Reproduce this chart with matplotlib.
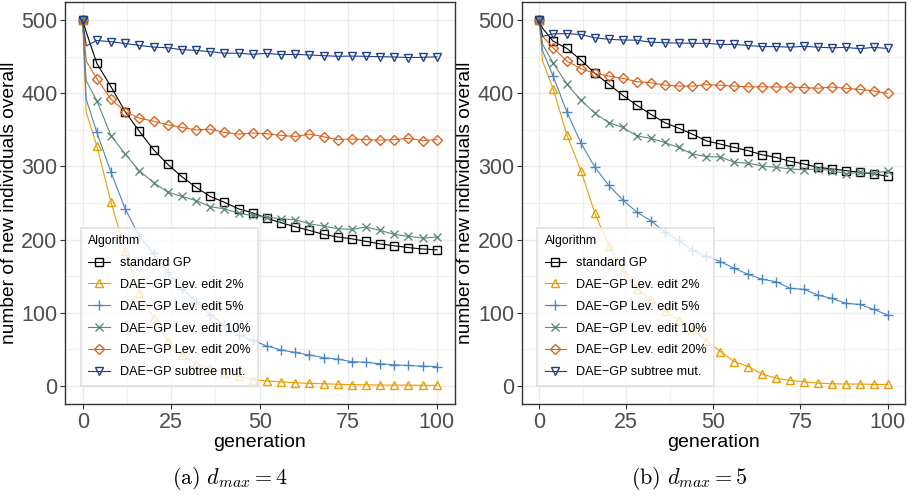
import matplotlib
matplotlib.use('Agg')
import matplotlib.pyplot as plt
from matplotlib.ticker import MultipleLocator

plt.rcParams['font.family'] = ['Liberation Sans', 'DejaVu Sans']
plt.rcParams['mathtext.fontset'] = 'cm'

# generations: 0, 1, then every 4th one (markers skip gen 1)
gens = [0, 1, 4, 8, 12, 16, 20, 24, 28, 32, 36, 40, 44, 48, 52, 56, 60, 64, 68, 72, 76, 80, 84, 88, 92, 96, 100]

labels = ['standard GP', 'DAE\u2212GP Lev. edit 2%', 'DAE\u2212GP Lev. edit 5%',
          'DAE\u2212GP Lev. edit 10%', 'DAE\u2212GP Lev. edit 20%', 'DAE\u2212GP subtree mut.']

# panel (a) d_max = 4
std_a = [500, 484, 441, 409, 375, 348, 323, 303, 286, 271.5, 259, 251, 242, 236.5, 229, 223, 217.5, 212.5,
         207, 203.5, 201, 197.5, 194, 191.5, 189, 187, 186]
lev2_a = [500, 374, 328, 251, 184, 127, 93, 61, 42, 30, 24, 17, 12.7, 8.5, 6.5, 5.2, 4.2, 3.2, 2.7, 2,
          1.5, 1.2, 1, 0.9, 0.8, 0.6, 0.5]
lev5_a = [500, 392, 346.5, 292, 242, 204.5, 181, 156, 133, 115, 97, 83, 69.5, 62, 54.5, 49, 45.5, 42,
          38.5, 36.3, 33, 32, 30, 28.6, 27.7, 26.8, 26.3]
lev10_a = [500, 417, 390, 342, 317, 294, 278, 265, 259, 253.4, 245, 242, 236, 233, 230.7, 228.5, 227,
           221.6, 218.4, 214.8, 214, 217, 212.5, 207, 204.4, 202, 203.5]
lev20_a = [500, 444, 420, 392, 375, 366, 362, 357, 353.4, 350, 351, 346.6, 344.3, 345.7, 344.8, 342.5,
           341, 344.3, 340.7, 336.7, 337.6, 336.7, 336, 336.7, 338.5, 335.3, 336.7]
sub_a = [500, 465, 472.4, 470.6, 468.3, 465.6, 463.3, 462.4, 459.7, 458.8, 457, 455, 455, 453.4, 454.8,
         453, 453.4, 452.5, 451.6, 450.7, 451, 450.7, 450.2, 449.8, 449, 449.3, 450]

# panel (b) d_max = 5
std_b = [500, 489, 471.4, 461.4, 445.5, 427.4, 412.4, 397.4, 383.8, 371.5, 360, 352.4, 344.2, 335, 330.6,
         326, 321.5, 316, 312.4, 307, 303.4, 298.8, 296.6, 294.3, 292, 289.8, 286.6]
lev2_b = [500, 444, 406.5, 342.8, 294, 236, 191, 156.7, 133, 118.5, 102.6, 90, 76.3, 61.8, 46.8, 33.1,
          26.3, 15.9, 10.4, 7.2, 5.4, 3.6, 2.7, 2.3, 2.3, 1.8, 1.8]
lev5_b = [500, 458, 423.7, 374, 332, 299, 274, 254.3, 237.5, 226, 210.3, 199, 185.3, 177, 169.8, 160.7,
          152.4, 145.6, 142.4, 133.3, 131.9, 124, 119.5, 112.7, 111.3, 104.5, 96.7]
lev10_b = [500, 467, 441.9, 412.4, 390.6, 372.8, 360, 353.3, 342, 338.3, 332.8, 326, 317, 313.6, 313,
           305.6, 304.5, 300.5, 298.8, 296.6, 295.5, 296.6, 294.3, 290, 292, 290.7, 294]
lev20_b = [500, 478, 462.3, 444, 433.7, 427.4, 423.7, 420.6, 416, 414.6, 411.4, 410, 410, 412, 411, 410,
           409, 409, 408.7, 408.7, 407.8, 407, 408.7, 407, 405.3, 403.4, 400]
sub_b = [500, 478, 481.4, 481.8, 480.5, 476, 474, 473, 472.8, 470, 469.3, 468.8, 468.5, 468.5, 467, 467,
         465.5, 464, 464, 463.2, 464.4, 463.2, 462.3, 463, 461, 463, 461.4]

colors = ['#000000', '#E69F00', '#4A86C0', '#5E8B74', '#D9661F', '#1F3F85']
markers = ['s', '^', '+', 'x', 'D', 'v']
msizes = [5.2, 6, 7.5, 5.5, 5.3, 6]
mark_idx = [0] + list(range(2, len(gens)))

fig = plt.figure(figsize=(9.14, 5.0), dpi=100)
ax_a = fig.add_axes([0.0711, 0.192, 0.4262, 0.804])
ax_b = fig.add_axes([0.5708, 0.192, 0.4194, 0.804])


def draw_panel(ax, series):
    for ys, lab, c, m, ms in zip(series, labels, colors, markers, msizes):
        ax.plot(gens, ys, color=c, lw=0.8, marker=m, markevery=mark_idx, markersize=ms,
                markerfacecolor='none', markeredgecolor=c, markeredgewidth=1.0, label=lab)
    ax.set_xlim(-5, 105)
    ax.set_ylim(-25, 525)
    ax.xaxis.set_major_locator(MultipleLocator(25))
    ax.xaxis.set_minor_locator(MultipleLocator(12.5))
    ax.yaxis.set_major_locator(MultipleLocator(100))
    ax.yaxis.set_minor_locator(MultipleLocator(50))
    ax.grid(which='major', color='#EBEBEB', lw=1.0, zorder=0)
    ax.grid(which='minor', color='#EBEBEB', lw=0.55, zorder=0)
    ax.set_axisbelow(True)
    for sp in ax.spines.values():
        sp.set_color('#333333')
        sp.set_linewidth(1.0)
    ax.tick_params(which='major', length=3.5, width=0.8, color='#333333',
                   labelsize=15.5, labelcolor='#4D4D4D', pad=2)
    ax.tick_params(which='minor', length=0)
    ax.set_xlabel('generation', fontsize=14, labelpad=1)
    ax.set_ylabel('number of new individuals overall', fontsize=13.8, labelpad=2.5)
    leg = ax.legend(loc='lower left', bbox_to_anchor=(0.04, 0.045), title='Algorithm',
                    fontsize=9.1, title_fontsize=8.8, frameon=True, fancybox=False,
                    handlelength=1.7, handletextpad=0.8, labelspacing=0.78,
                    borderpad=0.6, borderaxespad=0)
    leg._legend_box.align = 'left'
    frame = leg.get_frame()
    frame.set_facecolor((1, 1, 1, 0.7))
    frame.set_edgecolor('#D9D9D9')
    frame.set_linewidth(1.2)


draw_panel(ax_a, [std_a, lev2_a, lev5_a, lev10_a, lev20_a, sub_a])
draw_panel(ax_b, [std_b, lev2_b, lev5_b, lev10_b, lev20_b, sub_b])

fig.text(0.252, 0.044, r'$\mathrm{(a)}\ d_{max} = 4$', ha='center', va='center', fontsize=16)
fig.text(0.754, 0.044, r'$\mathrm{(b)}\ d_{max} = 5$', ha='center', va='center', fontsize=16)

fig.savefig('out.png', dpi=100)
